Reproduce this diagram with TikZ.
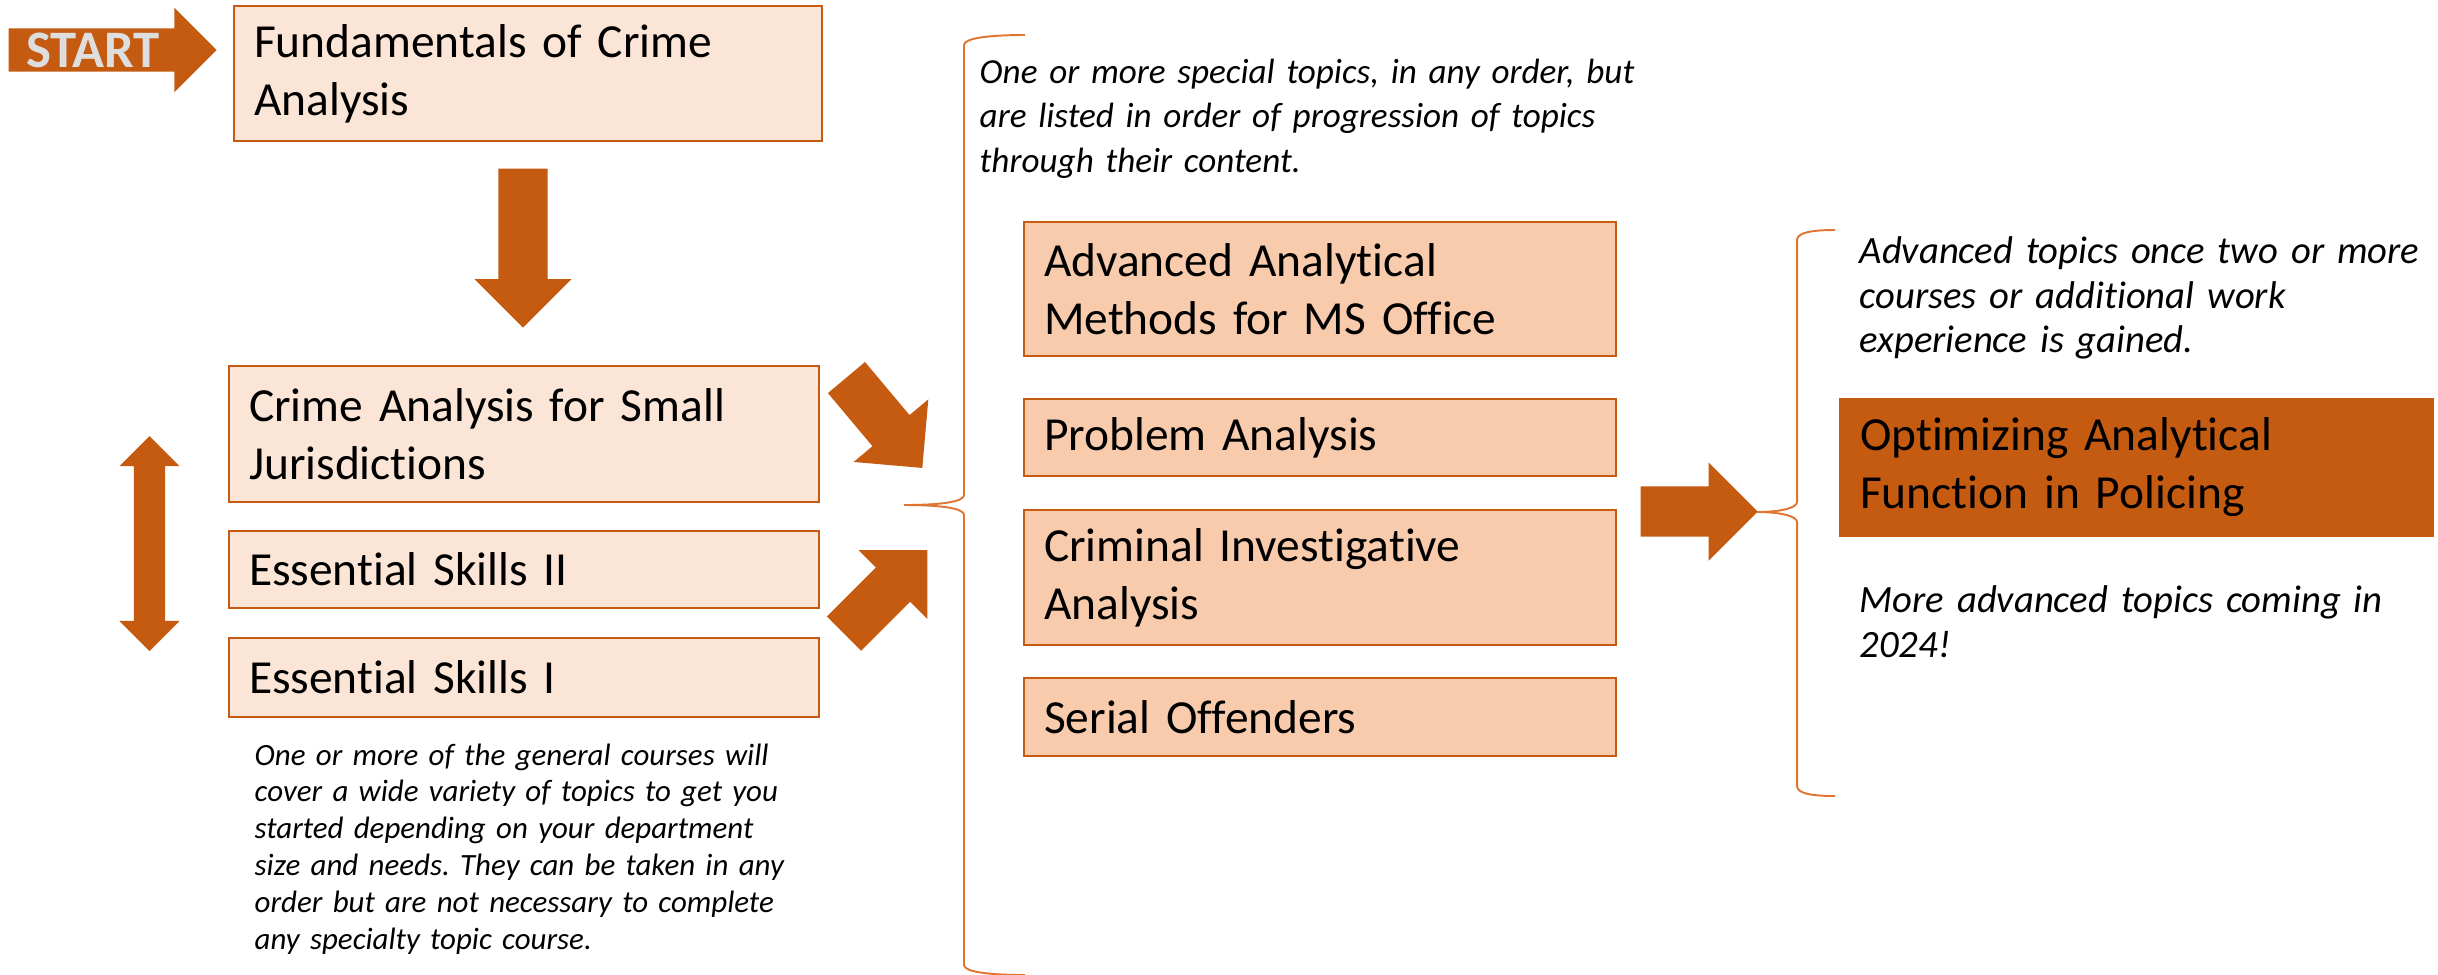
\documentclass[tikz,border=0pt]{standalone}
\usepackage{fontspec}
\setmainfont{Carlito}[RawFeature={-liga;-clig;-calt;-dlig}]
\usetikzlibrary{shapes.arrows}
\definecolor{rust}{HTML}{C55A11}
\definecolor{peach}{HTML}{FBE5D6}
\definecolor{apricot}{HTML}{F8CBAD}
\definecolor{bracecol}{HTML}{E07432}
\tikzset{
    course/.style={draw=rust, line width=0.6pt, fill=peach, anchor=north west, align=left, inner xsep=2mm, inner ysep=0pt, font=\fontsize{13.5}{16.5}\selectfont}, % box of one course
    special/.style={course, fill=apricot}, % specialty topics
    blockarrow/.style={single arrow, fill=rust, draw=none, single arrow tip angle=90, inner xsep=0pt, anchor=tail},
    note/.style={anchor=base west, align=left, inner sep=0pt},
    brace/.style={draw=bracecol, line width=0.55pt}
}
\begin{document}
\frenchspacing
\begin{tikzpicture}[x=0.1mm, y=-0.1mm]
    \useasboundingbox (0,0) rectangle (2438,974);

    % general courses
    \node[course, text width=54.8mm, minimum height=13.5mm] (fund) at (233,5) {Fundamentals of Crime\\Analysis};
    \node[course, text width=55mm, minimum height=13.6mm] (small) at (228,365) {Crime Analysis for Small\\Jurisdictions};
    \node[course, text width=55mm, minimum height=7.7mm] (ess2) at (228,530) {Essential Skills II};
    \node[course, text width=55mm, minimum height=7.9mm] (ess1) at (228,637) {Essential Skills I};

    % specialty topics
    \node[special, text width=55.2mm, minimum height=13.4mm] (advmeth) at (1023,221) {Advanced Analytical\\Methods for MS Office};
    \node[special, text width=55.2mm, minimum height=7.7mm] (probana) at (1023,398) {Problem Analysis};
    \node[special, text width=55.2mm, minimum height=13.5mm] (criminv) at (1023,509) {Criminal Investigative\\Analysis};
    \node[special, text width=55.2mm, minimum height=7.8mm] (serial) at (1023,677) {Serial Offenders};
    \node[course, fill=rust, text width=55.3mm, minimum height=13.7mm] (optim) at (1839,398) {Optimizing Analytical\\Function in Policing};

    % block arrows
    \node[blockarrow, minimum height=20.8mm, inner ysep=2.1mm, single arrow head extend=2.05mm] (startarr) at (8,50) {};
    \node[font=\fontsize{15}{17}\selectfont\bfseries, text=black!13, inner sep=0pt] (startlbl) at (93,50) {START};
    \node[blockarrow, rotate=-90, minimum height=15.9mm, inner ysep=2.4mm, single arrow head extend=2.4mm] (down) at (523,168) {};
    \node[blockarrow, rotate=-50, minimum height=11.8mm, inner ysep=2.35mm, single arrow head extend=2.45mm] (tospecial1) at (846,377) {};
    \node[blockarrow, rotate=45, minimum height=11.8mm, inner ysep=2.35mm, single arrow head extend=2.45mm] (tospecial2) at (843.5,634) {};
    \node[blockarrow, minimum height=11.7mm, inner ysep=2.45mm, single arrow head extend=2.4mm] (toadv) at (1640,511.5) {};
    \node[double arrow, fill=rust, rotate=90, minimum height=21.5mm, inner xsep=0pt, inner ysep=1.5mm, double arrow head extend=1.45mm, double arrow tip angle=90] (anyorder) at (149.5,543.5) {};

    % braces
    \draw[brace] (1025,35) .. controls (990,35) and (964,38) .. (964,45) -- (964,495)
        .. controls (964,502) and (940,505) .. (904,505) .. controls (940,505) and (964,508) .. (964,515)
        -- (964,965) .. controls (964,972) and (990,975) .. (1025,975);
    \draw[brace] (1835,230) .. controls (1810,230) and (1797,233) .. (1797,240) -- (1797,502)
        .. controls (1797,508) and (1780,512) .. (1757,512) .. controls (1780,512) and (1797,516) .. (1797,522)
        -- (1797,786) .. controls (1797,793) and (1810,796) .. (1835,796);

    % notes
    \node[note, text width=56mm, font=\fontsize{8.8}{10.5}\selectfont\itshape] (generalnote) at (254,765) {One or more of the general courses will\\cover a wide variety of topics to get you\\started depending on your department\\size and needs. They can be taken in any\\order but are not necessary to complete\\any specialty topic course.};
    \node[note, text width=70mm, font=\fontsize{10}{12.8}\selectfont\itshape] (specialnote) at (979,83) {One or more special topics, in any order, but\\are listed in order of progression of topics\\through their content.};
    \node[note, text width=60mm, font=\fontsize{11}{12.8}\selectfont\itshape] (advnote) at (1859,263) {Advanced topics once two or more\\courses or additional work\\experience is gained.};
    \node[note, text width=60mm, font=\fontsize{11}{12.8}\selectfont\itshape] (morenote) at (1859,612) {More advanced topics coming in\\2024!};
\end{tikzpicture}
\end{document}
